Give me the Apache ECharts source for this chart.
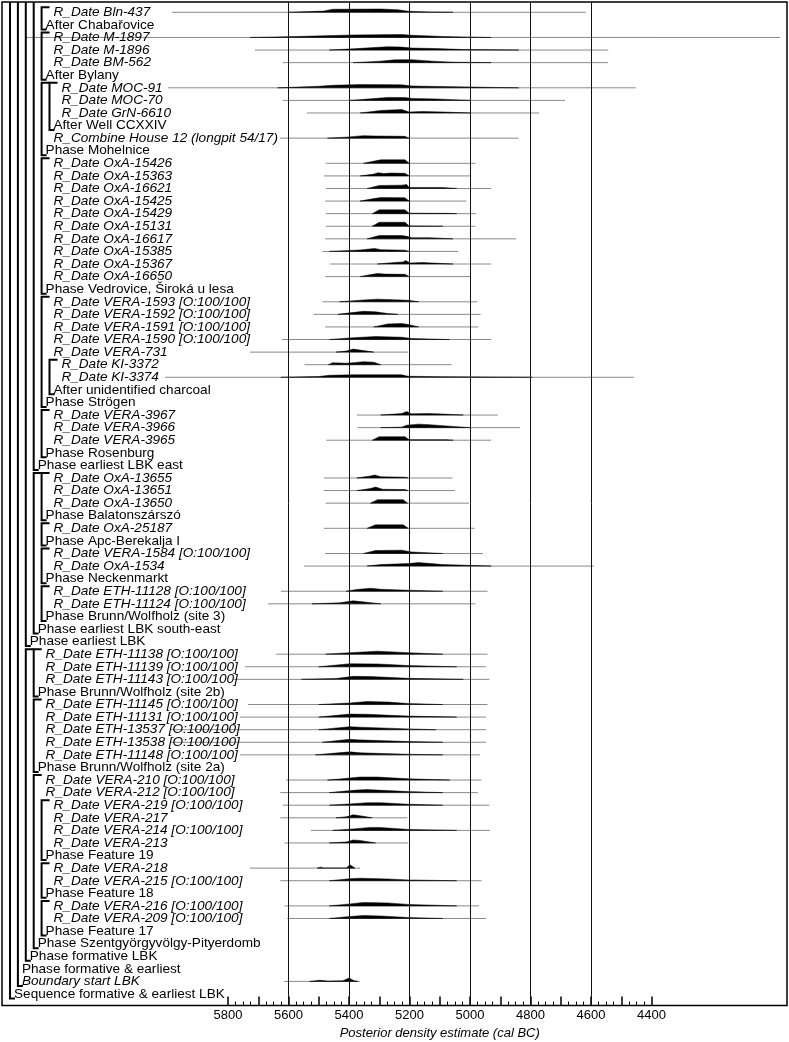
<!DOCTYPE html>
<html>
<head>
<meta charset="utf-8">
<script src="https://cdn.jsdelivr.net/npm/echarts@6/dist/echarts.min.js"></script>
<style>
html, body { margin: 0; padding: 0; background: #fff; }
#chart { width: 789px; height: 1042px; }
</style>
</head>
<body>
<div id="chart"></div>
<script>
// row labels, top to bottom
const rowLabels = [
    'R_Date Bln-437', 'After Chabařovice', 'R_Date M-1897', 'R_Date M-1896', 'R_Date BM-562', 'After Bylany',
    'R_Date MOC-91', 'R_Date MOC-70', 'R_Date GrN-6610', 'After Well CCXXIV', 'R_Combine House 12 (longpit 54/17)', 'Phase Mohelnice',
    'R_Date OxA-15426', 'R_Date OxA-15363', 'R_Date OxA-16621', 'R_Date OxA-15425', 'R_Date OxA-15429', 'R_Date OxA-15131',
    'R_Date OxA-16617', 'R_Date OxA-15385', 'R_Date OxA-15367', 'R_Date OxA-16650', 'Phase Vedrovice, Široká u lesa',
    'R_Date VERA-1593 [O:100/100]', 'R_Date VERA-1592 [O:100/100]', 'R_Date VERA-1591 [O:100/100]', 'R_Date VERA-1590 [O:100/100]',
    'R_Date VERA-731', 'R_Date KI-3372', 'R_Date KI-3374', 'After unidentified charcoal', 'Phase Strögen',
    'R_Date VERA-3967', 'R_Date VERA-3966', 'R_Date VERA-3965', 'Phase Rosenburg', 'Phase earliest LBK east',
    'R_Date OxA-13655', 'R_Date OxA-13651', 'R_Date OxA-13650', 'Phase Balatonszárszó', 'R_Date OxA-25187', 'Phase Apc-Berekalja I',
    'R_Date VERA-1584 [O:100/100]', 'R_Date OxA-1534', 'Phase Neckenmarkt', 'R_Date ETH-11128 [O:100/100]', 'R_Date ETH-11124 [O:100/100]',
    'Phase Brunn/Wolfholz (site 3)', 'Phase earliest LBK south-east', 'Phase earliest LBK',
    'R_Date ETH-11138 [O:100/100]', 'R_Date ETH-11139 [O:100/100]', 'R_Date ETH-11143 [O:100/100]', 'Phase Brunn/Wolfholz (site 2b)',
    'R_Date ETH-11145 [O:100/100]', 'R_Date ETH-11131 [O:100/100]', 'R_Date ETH-13537 [O:100/100]', 'R_Date ETH-13538 [O:100/100]',
    'R_Date ETH-11148 [O:100/100]', 'Phase Brunn/Wolfholz (site 2a)',
    'R_Date VERA-210 [O:100/100]', 'R_Date VERA-212 [O:100/100]', 'R_Date VERA-219 [O:100/100]', 'R_Date VERA-217',
    'R_Date VERA-214 [O:100/100]', 'R_Date VERA-213', 'Phase Feature 19', 'R_Date VERA-218', 'R_Date VERA-215 [O:100/100]',
    'Phase Feature 18', 'R_Date VERA-216 [O:100/100]', 'R_Date VERA-209 [O:100/100]', 'Phase Feature 17',
    'Phase Szentgyörgyvölgy-Pityerdomb', 'Phase formative LBK', 'Phase formative & earliest', 'Boundary start LBK',
    'Sequence formative & earliest LBK'
];
// nesting depth of each row
const rowLevels = [
    5, 4, 5, 5, 5, 4, 6, 6, 6, 5, 5, 4,
    5, 5, 5, 5, 5, 5, 5, 5, 5, 5, 4,
    5, 5, 5, 5, 5, 6, 6, 5, 4,
    5, 5, 5, 4, 3,
    5, 5, 5, 4, 5, 4, 5, 5, 4, 5, 5, 4, 3, 2,
    4, 4, 4, 3,
    4, 4, 4, 4, 4, 3,
    4, 4, 5, 5, 5, 5, 4, 5, 5, 4, 5, 5, 4, 3, 2, 1, 1, 0
];
// brackets: [first row, last row, depth]
const bracketSpans = [
    [0, 1, 4], [2, 5, 4], [6, 9, 5], [6, 11, 4], [12, 22, 4], [28, 30, 5], [23, 31, 4], [32, 35, 4], [0, 36, 3],
    [37, 40, 4], [41, 42, 4], [43, 45, 4], [46, 48, 4], [37, 49, 3], [0, 50, 2],
    [51, 54, 3], [55, 60, 3], [63, 67, 4], [68, 70, 4], [71, 73, 4], [61, 74, 3], [51, 75, 2], [0, 77, 1], [0, 78, 0]
];

// dated rows: row index, grey range line [from, to] (cal BC), posterior outline [year, height]
const densityRows = [0, 2, 3, 4, 6, 7, 8, 10, 12, 13, 14, 15, 16, 17, 18, 19, 20, 21, 23, 24, 25, 26, 27, 28, 29,
    32, 33, 34, 37, 38, 39, 41, 43, 44, 46, 47, 51, 52, 53, 55, 56, 57, 58, 59, 61, 62, 63, 64, 65, 66, 68, 69, 71, 72, 77];
const densityRanges = [
    [5985, 4617], [6465, 3975], [5711, 4543], [5619, 4543], [5998, 4452], [5619, 4686], [5539, 4771], [5628, 4839],
    [5477, 4982], [5483, 4999], [5475, 4930], [5479, 5012], [5477, 4979], [5477, 4982], [5479, 4847], [5488, 5039],
    [5462, 4930], [5479, 4999], [5488, 4976], [5517, 4965], [5479, 4973], [5621, 4930], [5727, 5204], [5547, 5061],
    [6008, 4458], [5374, 4908], [5372, 4834], [5475, 4930], [5483, 5058], [5483, 5050], [5477, 5003], [5483, 4985],
    [5479, 4957], [5549, 4591], [5625, 4942], [5668, 4982], [5642, 4942], [5744, 4947], [5783, 4936], [5734, 4942],
    [5760, 4947], [5990, 4947], [5990, 4947], [5760, 4967], [5608, 4962], [5627, 4974], [5619, 4936], [5627, 5207],
    [5526, 4934], [5613, 5204], [5727, 5363], [5627, 4962], [5613, 4970], [5604, 4947], [5614, 5364]
];
const densityShapes = [
    [[5602, 0], [5483, 1.2], [5454, 3], [5295, 3.3], [5238, 2.5], [5204, 1], [5135, 0.4], [5056, 0]],
    [[5727, 0], [5613, 0.6], [5477, 1.8], [5386, 2.5], [5226, 3], [5192, 2.2], [5090, 1], [4987, 0.3], [4930, 0]],
    [[5465, 0], [5386, 1.2], [5318, 2.5], [5272, 3.3], [5226, 3], [5192, 2], [5113, 1.5], [5022, 0.5], [4839, 0]],
    [[5386, 0], [5295, 1.5], [5249, 2.8], [5192, 3], [5124, 1.5], [5056, 0.5], [4930, 0]],
    [[5636, 0], [5500, 1.5], [5454, 2.5], [5363, 3.2], [5226, 3], [5192, 1.8], [5044, 1], [4839, 0]],
    [[5397, 0], [5318, 1.8], [5272, 3], [5215, 2.8], [5192, 2], [5113, 1.5], [4999, 0]],
    [[5363, 0], [5295, 2.5], [5226, 3.5], [5201, 1], [5158, 1.5], [5090, 1], [4999, 0]],
    [[5471, 0], [5409, 1], [5352, 2.5], [5318, 2.2], [5215, 1.8], [5201, 0]],
    [[5352, 0], [5312, 2.5], [5295, 3.5], [5215, 3.5], [5201, 0]],
    [[5363, 0], [5318, 1.8], [5304, 3.2], [5286, 2.4], [5261, 2.8], [5215, 2.6], [5201, 0]],
    [[5340, 0], [5300, 3], [5226, 3.3], [5209, 4], [5201, 1], [5158, 1], [5090, 1], [5044, 0]],
    [[5363, 0], [5318, 2.5], [5295, 3.5], [5215, 3.3], [5201, 0]],
    [[5323, 0], [5300, 3.8], [5215, 3.8], [5201, 0.5], [5073, 0.3], [5044, 0]],
    [[5323, 0], [5300, 4], [5215, 4], [5201, 0.3], [5090, 0]],
    [[5340, 0], [5300, 3.3], [5226, 3.3], [5209, 2.5], [5192, 1], [5135, 1.2], [5056, 0]],
    [[5465, 0], [5363, 1.5], [5315, 3], [5295, 1.8], [5215, 1.3], [5201, 0]],
    [[5306, 0], [5249, 1.5], [5221, 2], [5213, 3.5], [5198, 1], [5158, 1.5], [5056, 0]],
    [[5363, 0], [5318, 2.5], [5304, 3.2], [5283, 2.5], [5215, 2.3], [5201, 0]],
    [[5431, 0], [5352, 1.8], [5306, 2.6], [5249, 2], [5204, 1.5], [5170, 0]],
    [[5437, 0], [5397, 1.5], [5352, 3], [5312, 2.5], [5272, 0.8], [5238, 0]],
    [[5318, 0], [5272, 3], [5226, 3.5], [5204, 2.5], [5170, 0]],
    [[5465, 0], [5386, 1.8], [5312, 3], [5226, 2.3], [5192, 1], [5067, 0]],
    [[5443, 0], [5409, 1], [5386, 3], [5352, 1.5], [5318, 0]],
    [[5468, 0], [5454, 2], [5409, 1.5], [5386, 2], [5352, 3], [5318, 2.5], [5295, 0]],
    [[5625, 0], [5500, 0.8], [5465, 2], [5386, 2.5], [5226, 2.5], [5204, 1], [5090, 0.6], [4794, 0]],
    [[5295, 0], [5226, 1.5], [5209, 3.5], [5195, 1.2], [5135, 1.5], [5090, 1], [5022, 0]],
    [[5295, 0], [5226, 0.5], [5209, 2.5], [5170, 3.5], [5135, 3], [5067, 1.5], [4999, 0]],
    [[5323, 0], [5300, 3.5], [5215, 3.5], [5201, 0.5], [5078, 0.5], [5056, 0]],
    [[5374, 0], [5329, 2], [5315, 3], [5295, 1.2], [5215, 0.8], [5204, 0]],
    [[5374, 0], [5329, 2], [5312, 3.5], [5289, 1.3], [5215, 1], [5204, 0]],
    [[5329, 0], [5306, 3.5], [5221, 3.5], [5206, 0]],
    [[5340, 0], [5312, 3.5], [5221, 3.5], [5204, 0]],
    [[5352, 0], [5312, 3], [5226, 3.3], [5192, 1.5], [5090, 0]],
    [[5340, 0], [5295, 1.5], [5204, 2.5], [5170, 3.5], [5090, 1.5], [4930, 0]],
    [[5409, 0], [5374, 1.8], [5329, 3], [5295, 2], [5204, 1], [5090, 0]],
    [[5522, 0], [5431, 1], [5386, 3], [5340, 1.5], [5295, 0]],
    [[5477, 0], [5397, 1.5], [5306, 3], [5204, 1.5], [5090, 0]],
    [[5500, 0], [5397, 3], [5306, 2.8], [5204, 1.2], [5044, 0]],
    [[5557, 0], [5443, 0.8], [5386, 3], [5329, 2.8], [5204, 1], [5022, 0]],
    [[5500, 0], [5397, 1.5], [5340, 3], [5272, 2.5], [5204, 1], [5090, 0]],
    [[5500, 0], [5397, 3], [5340, 2.8], [5204, 1], [5044, 0]],
    [[5500, 0], [5397, 3], [5363, 2.5], [5204, 0.8], [5113, 0]],
    [[5488, 0], [5397, 3], [5375, 2.5], [5204, 0.7], [5090, 0]],
    [[5511, 0], [5397, 3], [5363, 2], [5204, 0.6], [5090, 0]],
    [[5471, 0], [5431, 1], [5363, 3], [5306, 3], [5204, 1.2], [5067, 0]],
    [[5465, 0], [5375, 2.5], [5340, 3], [5306, 2.5], [5204, 1], [5090, 0]],
    [[5465, 0], [5386, 1.5], [5340, 2.5], [5295, 2.5], [5204, 1], [5090, 0]],
    [[5443, 0], [5409, 1], [5386, 3], [5352, 1.5], [5323, 0]],
    [[5454, 0], [5386, 1.5], [5329, 3], [5295, 2.8], [5204, 1], [5044, 0]],
    [[5465, 0], [5409, 1], [5386, 3], [5363, 2.5], [5312, 0]],
    [[5505, 0], [5494, 1], [5483, 0], [5409, 0], [5397, 3.5], [5380, 0]],
    [[5465, 0], [5397, 2], [5363, 2.5], [5272, 1.8], [5204, 0.8], [5044, 0]],
    [[5465, 0], [5397, 2], [5352, 3.5], [5272, 3], [5204, 1.5], [5044, 0]],
    [[5465, 0], [5397, 2], [5352, 3], [5295, 2.5], [5204, 1], [5090, 0]],
    [[5530, 0], [5496, 1.2], [5470, 0.3], [5420, 0.6], [5400, 3.5], [5385, 1], [5370, 0]]
];
const gridYears = [5600, 5400, 5200, 5000, 4800, 4600];

// layout
const YEAR_LEFT = 6547, YEAR_RIGHT = 3952;   // frame edges in cal BC
const ROW_PX = 12.586;
const FONT = '13.6px "Liberation Sans", Arial, sans-serif';

let chart = echarts.init(document.getElementById('chart'));

let option = {
    animation: false,
    grid: [
        { left: 2, top: 2, width: 785, height: 1003.5, show: true, borderColor: '#000', borderWidth: 1.5, backgroundColor: 'transparent', outerBoundsMode: 'none' },
        { left: 228, top: 2, width: 423.5, height: 1003.5, outerBoundsMode: 'none' }
    ],
    xAxis: [
        { gridIndex: 0, type: 'value', min: YEAR_RIGHT, max: YEAR_LEFT, inverse: true, show: false },
        {
            gridIndex: 1, type: 'value', min: 4400, max: 5800, inverse: true, interval: 100,
            name: 'Posterior density estimate (cal BC)', nameLocation: 'middle', nameGap: 18,
            nameTextStyle: { fontStyle: 'italic', fontSize: 13, color: '#000', fontFamily: 'Liberation Sans' },
            axisLine: { show: false },
            axisTick: { inside: true, length: 9, lineStyle: { color: '#000', width: 1.5 } },
            minorTick: { show: true, splitNumber: 4, length: 4, lineStyle: { color: '#000', width: 1 } },
            splitLine: { show: false },
            axisLabel: {
                margin: 3, fontSize: 13, color: '#000', fontFamily: 'Liberation Sans',
                formatter: v => (v % 200 === 0 ? String(v) : '')
            }
        }
    ],
    yAxis: [
        { gridIndex: 0, type: 'value', min: -0.818, max: 78.914, inverse: true, show: false },
        { gridIndex: 1, type: 'value', min: 0, max: 1, show: false }
    ],
    series: [
        {
            // vertical reference lines
            type: 'line', xAxisIndex: 1, yAxisIndex: 1, data: [], z: 1, silent: true,
            markLine: {
                symbol: 'none', silent: true, label: { show: false },
                lineStyle: { color: '#111', width: 1, type: 'solid' },
                data: gridYears.map(y => ({ xAxis: y }))
            }
        },
        {
            // range lines and posterior densities
            type: 'custom', xAxisIndex: 0, yAxisIndex: 0, z: 3, silent: true,
            data: densityRows.map((r, k) => [densityRanges[k][0], r]),
            renderItem: function (params, api) {
                let k = params.dataIndex;
                let row = densityRows[k];
                let a = api.coord([densityRanges[k][0], row]);
                let b = api.coord([densityRanges[k][1], row]);
                let pts = densityShapes[k].map(p => api.coord([p[0], row - p[1] / ROW_PX]));
                return {
                    type: 'group',
                    children: [
                        { type: 'line', shape: { x1: a[0], y1: a[1], x2: b[0], y2: b[1] }, style: { stroke: '#8a8a8a', lineWidth: 1 } },
                        { type: 'polygon', shape: { points: pts }, style: { fill: '#000', stroke: '#000', lineWidth: 0.5 } }
                    ]
                };
            }
        },
        {
            // hierarchy brackets
            type: 'custom', xAxisIndex: 0, yAxisIndex: 0, z: 4, silent: true,
            data: bracketSpans.map(s => [YEAR_LEFT, s[0], s[1]]),
            renderItem: function (params, api) {
                let s = bracketSpans[params.dataIndex];
                let left = api.coord([YEAR_LEFT, 0])[0];
                let x = left + 8 + s[2] * 7.9;
                let top = api.coord([YEAR_LEFT, s[0]])[1] - 5;
                let bottom = api.coord([YEAR_LEFT, s[1]])[1] + 4.5;
                let pts;
                if (s[0] === 0 && s[2] < 4) {
                    pts = [[x, 2], [x, bottom], [x + 5, bottom]];
                } else {
                    pts = [[x + 8, top], [x, top], [x, bottom], [x + 5, bottom]];
                }
                return { type: 'polyline', shape: { points: pts }, style: { stroke: '#000', lineWidth: 2, fill: null } };
            }
        },
        {
            // row labels
            type: 'custom', xAxisIndex: 0, yAxisIndex: 0, z: 5, silent: true,
            data: rowLabels.map((t, i) => [YEAR_LEFT, i]),
            renderItem: function (params, api) {
                let i = params.dataIndex;
                let p = api.coord([YEAR_LEFT, i]);
                let label = rowLabels[i];
                let italic = label.startsWith('R_') || label.startsWith('Boundary');
                return {
                    type: 'text',
                    x: p[0] + 12 + rowLevels[i] * 7.9,
                    y: p[1],
                    style: {
                        text: label,
                        font: (italic ? 'italic ' : '') + FONT,
                        fill: '#000',
                        verticalAlign: 'middle',
                        align: 'left'
                    }
                };
            }
        }
    ]
};

chart.setOption(option);
</script>
</body>
</html>
